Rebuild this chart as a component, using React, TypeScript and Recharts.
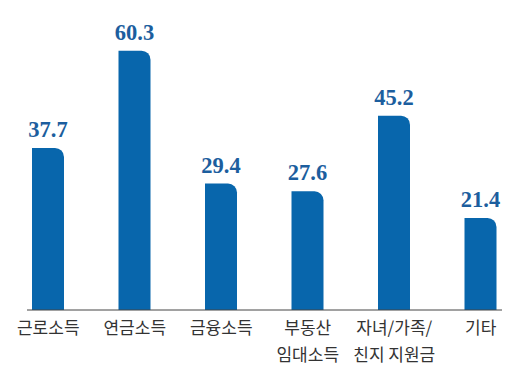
import React from "react";
import { BarChart, Bar, XAxis, YAxis, LabelList } from "recharts";

const categories = ["근로소득", "연금소득", "금융소득", "부동산\n임대소득", "자녀/가족/\n친지 지원금", "기타"];
const values = [37.7, 60.3, 29.4, 27.6, 45.2, 21.4];

const data = categories.map((c, i) => ({ name: c, value: values[i] }));

const Tick = (props: any) => {
  const { x, y, payload } = props;
  const lines = String(payload.value).split("\n");
  return (
    <g transform={`translate(${x},${y})`}>
      {lines.map((l: string, i: number) => (
        <text
          key={i}
          x={0}
          y={i * 27 + 16}
          textAnchor="middle"
          fill="#333"
          fontSize={17}
          fontFamily="'Noto Sans CJK KR', sans-serif"
        >
          {l}
        </text>
      ))}
    </g>
  );
};

export default function App() {
  return (
    <BarChart
      width={509}
      height={371}
      data={data}
      margin={{ top: 1, right: 15, bottom: 0, left: 19 }}
    >
      <XAxis
        dataKey="name"
        tickLine={false}
        axisLine={{ stroke: "#444", strokeWidth: 1 }}
        padding={{ left: -22, right: -22 }}
        tick={<Tick />}
        interval={0}
        height={69}
      />
      <YAxis hide domain={[0, 70]} />
      <Bar dataKey="value" fill="#0866ac" barSize={32} radius={[0, 9, 0, 0]} isAnimationActive={false}>
        <LabelList
          dataKey="value"
          position="top"
          offset={11}
          fill="#1c5e9e"
          fontSize={22.5}
          fontWeight="bold"
          fontFamily="'Liberation Serif', serif"
          formatter={(v: any) => Number(v).toFixed(1)}
        />
      </Bar>
    </BarChart>
  );
}
